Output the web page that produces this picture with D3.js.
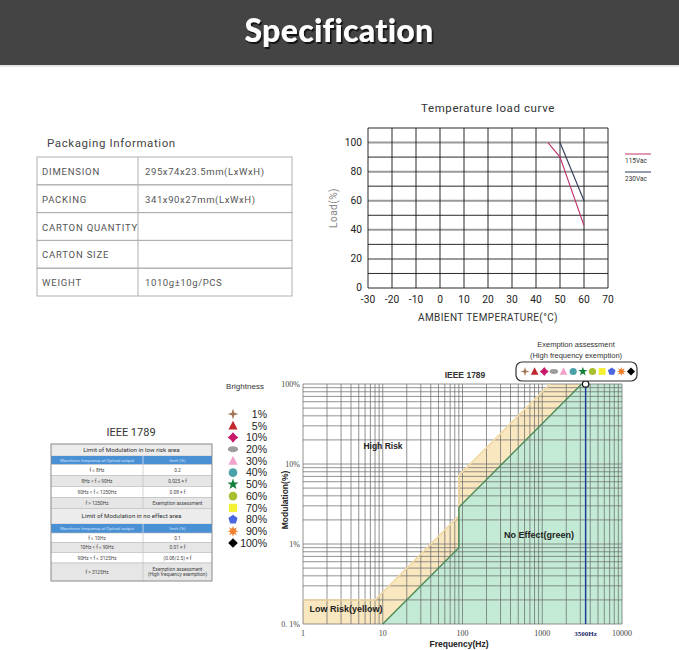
<!DOCTYPE html>
<html><head><meta charset="utf-8">
<script src="https://cdn.jsdelivr.net/npm/d3@7"></script>
<style>body{margin:0;background:#fff;} svg{display:block;}</style>
</head><body><svg id="c" width="679" height="650"></svg>
<script>
// ---------- DATA ----------
const pageTitle = "Specification";
const packagingTitle = "Packaging Information";
const packagingLabels = ["DIMENSION", "PACKING", "CARTON QUANTITY", "CARTON SIZE", "WEIGHT"];
const packagingValues = ["295x74x23.5mm(LxWxH)", "341x90x27mm(LxWxH)", "", "", "1010g±10g/PCS"];

const tempTitle = "Temperature load curve";
const tempXTicks = [-30, -20, -10, 0, 10, 20, 30, 40, 50, 60, 70];
const tempYTicks = [0, 20, 40, 60, 80, 100];
const tempSeriesNames = ["115Vac", "230Vac"];
const curve115 = [[45, 100], [50, 90], [60, 43]];
const curve230 = [[50, 100], [60, 60]];

const ieeeTitle = "IEEE 1789";
const lowRiskHeader = "Limit of Modulation in low risk area";
const noEffectHeader = "Limit of Modulation in no effect area";
const colHeaders = ["Waveform frequency of Optical output", "limit (%)"];
const lowRiskFreq = ["f ≤ 8Hz", "8Hz < f ≤ 90Hz", "90Hz < f ≤ 1250Hz", "f > 1250Hz"];
const lowRiskLim = ["0.2", "0.025 × f", "0.08 × f", "Exemption assessment"];
const noEffectFreq = ["f ≤ 10Hz", "10Hz < f ≤ 90Hz", "90Hz < f ≤ 3125Hz", "f > 3125Hz"];
const noEffectLim = ["0.1", "0.01 × f", "(0.08/2.5) ×   f", "Exemption assessment|(High frequency exemption)"];

const brightnessLabels = ["1%", "5%", "10%", "20%", "30%", "40%", "50%", "60%", "70%", "80%", "90%", "100%"];
const markerShapes = ["star4", "triangle", "flower", "ellipse", "triangle", "circle", "star5", "circle", "square", "pentagon", "star8", "diamond"];
const markerColors = ["#a27858", "#c0282c", "#c8186a", "#9c9c9c", "#f2a2c8", "#4aa2a8", "#17803e", "#a8c030", "#f6f032", "#4a66e0", "#f08030", "#000000"];

const lowRiskLimit = [[1, 0.2], [8, 0.2], [90, 2.25], [90, 7.2], [1250, 100]];
const noEffectLimit = [[1, 0.1], [10, 0.1], [90, 0.9], [90, 2.88], [3125, 100]];
const freqTicks = [1, 10, 100, 1000, 10000];
const modTicks = [0.1, 1, 10, 100];
const modTickLabels = ["0. 1%", "1%", "10%", "100%"];
const exemptFreq = 3500;
const exemptLabel = "3500Hz";

// ---------- DRAW ----------
const svg = d3.select("#c");
const defs = svg.append("defs");
const flt = defs.append("filter").attr("id", "sh").attr("x", "-10%").attr("y", "-20%").attr("width", "120%").attr("height", "150%");
flt.append("feDropShadow").attr("dx", 1.5).attr("dy", 2).attr("stdDeviation", 0.6).attr("flood-color", "#111").attr("flood-opacity", 0.9);

// header
svg.append("rect").attr("x", 0).attr("y", 0).attr("width", 679).attr("height", 65).attr("fill", "#444444");
svg.append("rect").attr("x", 0).attr("y", 65).attr("width", 679).attr("height", 2).attr("fill", "#e6e6e6");
svg.append("text").attr("x", 339).attr("y", 42).attr("text-anchor", "middle")
  .attr("font-family", "Lato, 'DejaVu Sans', sans-serif").attr("font-weight", 900).attr("font-size", 32)
  .attr("letter-spacing", 0.3).attr("fill", "#ffffff").attr("filter", "url(#sh)").text(pageTitle);

// packaging table
const pk = svg.append("g").attr("font-family", "Roboto, sans-serif");
pk.append("text").attr("x", 47).attr("y", 147).attr("font-size", 11.5).attr("letter-spacing", 0.6)
  .attr("fill", "#444").text(packagingTitle);
const pkX0 = 37, pkX1 = 138, pkX2 = 292, pkY0 = 157, pkRH = 27.8;
packagingLabels.forEach((lab, i) => {
  const y = pkY0 + i * pkRH;
  pk.append("rect").attr("x", pkX0).attr("y", y).attr("width", pkX2 - pkX0).attr("height", pkRH)
    .attr("fill", "none").attr("stroke", "#b0b0b0").attr("stroke-width", 1);
  pk.append("line").attr("x1", pkX1).attr("x2", pkX1).attr("y1", y).attr("y2", y + pkRH).attr("stroke", "#b0b0b0");
  pk.append("text").attr("x", 42).attr("y", y + 18).attr("font-size", 9.5).attr("letter-spacing", 0.8)
    .attr("fill", "#555").text(lab);
  pk.append("text").attr("x", 145).attr("y", y + 18).attr("font-size", 9.5).attr("letter-spacing", 0.6)
    .attr("fill", "#555").text(packagingValues[i]);
});

// temperature chart
const tx = d3.scaleLinear().domain([-30, 70]).range([368, 608]);
const ty = d3.scaleLinear().domain([0, 110]).range([288, 128]);
const tg = svg.append("g").attr("font-family", "Roboto, sans-serif");
tg.append("text").attr("x", 488).attr("y", 112).attr("text-anchor", "middle").attr("font-size", 11.5)
  .attr("letter-spacing", 0.6).attr("fill", "#333").text(tempTitle);
d3.range(0, 111, 10).forEach(v => {
  const major = v % 20 === 0 && v > 0 && v < 110;
  tg.append("line").attr("x1", tx(-30)).attr("x2", tx(70)).attr("y1", ty(v)).attr("y2", ty(v))
    .attr("stroke", major ? "#9a9a9a" : "#111").attr("stroke-width", major ? 2 : 0.9);
});
tempXTicks.forEach(v => {
  tg.append("line").attr("x1", tx(v)).attr("x2", tx(v)).attr("y1", ty(0)).attr("y2", ty(110))
    .attr("stroke", "#111").attr("stroke-width", 0.9);
  tg.append("text").attr("x", tx(v)).attr("y", 303).attr("text-anchor", "middle").attr("font-size", 10.2)
    .attr("fill", "#222").text(v);
});
tempYTicks.forEach(v => {
  tg.append("text").attr("x", 362).attr("y", ty(v) + 3).attr("text-anchor", "end").attr("font-size", 10.2)
    .attr("fill", "#222").text(v);
});
tg.append("text").attr("transform", "translate(337,208) rotate(-90)").attr("text-anchor", "middle")
  .attr("font-size", 10).attr("letter-spacing", 0.5).attr("fill", "#888").text("Load(%)");
tg.append("text").attr("x", 488).attr("y", 321).attr("text-anchor", "middle").attr("font-size", 10)
  .attr("letter-spacing", 0.4).attr("fill", "#333").text("AMBIENT TEMPERATURE(°C)");
const tline = d3.line().x(d => tx(d[0])).y(d => ty(d[1]));
tg.append("path").attr("d", tline(curve115)).attr("fill", "none").attr("stroke", "#c0306e").attr("stroke-width", 1.1);
tg.append("path").attr("d", tline(curve230)).attr("fill", "none").attr("stroke", "#2e3a58").attr("stroke-width", 1.1);
[["#c0306e", 154], ["#2e3a58", 172]].forEach((c, i) => {
  tg.append("line").attr("x1", 625).attr("x2", 651).attr("y1", c[1]).attr("y2", c[1]).attr("stroke", c[0]).attr("stroke-width", 1);
  tg.append("text").attr("x", 625).attr("y", c[1] + 9).attr("font-size", 6.5).attr("fill", "#333").text(tempSeriesNames[i]);
});

// IEEE table
const it = svg.append("g").attr("font-family", "Roboto, sans-serif");
it.append("text").attr("x", 131).attr("y", 436).attr("text-anchor", "middle").attr("font-size", 11)
  .attr("fill", "#333").text(ieeeTitle);
const tL = 51, tM = 143, tR = 212;
function titleRow(y, h, txt) {
  it.append("rect").attr("x", tL).attr("y", y).attr("width", tR - tL).attr("height", h).attr("fill", "#ececec").attr("stroke", "#bbb").attr("stroke-width", 0.6);
  it.append("text").attr("x", (tL + tR) / 2).attr("y", y + h / 2 + 2.2).attr("text-anchor", "middle").attr("font-size", 6.2).attr("fill", "#333").text(txt);
}
function headRow(y, h) {
  it.append("rect").attr("x", tL).attr("y", y).attr("width", tR - tL).attr("height", h).attr("fill", "#4a90d4");
  it.append("line").attr("x1", tM).attr("x2", tM).attr("y1", y).attr("y2", y + h).attr("stroke", "#fff").attr("stroke-width", 0.6);
  it.append("text").attr("x", (tL + tM) / 2).attr("y", y + h / 2 + 1.6).attr("text-anchor", "middle").attr("font-size", 4.4).attr("fill", "#cfe3ff").text(colHeaders[0]);
  it.append("text").attr("x", (tM + tR) / 2).attr("y", y + h / 2 + 1.6).attr("text-anchor", "middle").attr("font-size", 4.4).attr("fill", "#cfe3ff").text(colHeaders[1]);
}
function dataRow(y, h, a, b, shade) {
  it.append("rect").attr("x", tL).attr("y", y).attr("width", tR - tL).attr("height", h).attr("fill", shade ? "#e6e6e6" : "#fff").attr("stroke", "#bbb").attr("stroke-width", 0.6);
  it.append("line").attr("x1", tM).attr("x2", tM).attr("y1", y).attr("y2", y + h).attr("stroke", "#bbb").attr("stroke-width", 0.6);
  it.append("text").attr("x", (tL + tM) / 2).attr("y", y + h / 2 + 1.8).attr("text-anchor", "middle").attr("font-size", 4.8).attr("fill", "#444").text(a);
  const parts = b.split("|");
  parts.forEach((p, k) => {
    it.append("text").attr("x", (tM + tR) / 2).attr("y", y + h / 2 + 1.8 + (k - (parts.length - 1) / 2) * 5.2)
      .attr("text-anchor", "middle").attr("font-size", 4.8).attr("fill", "#444").text(p);
  });
}
titleRow(444, 12, lowRiskHeader);
headRow(456, 8.5);
const lrY = [464.5, 475.5, 486.5, 497.5];
lowRiskFreq.forEach((f, i) => dataRow(lrY[i], 11, f, lowRiskLim[i], i % 2 === 1));
titleRow(508.5, 15.5, noEffectHeader);
headRow(524, 9);
const neY = [533, 542.5, 552.5, 563], neH = [9.5, 10, 10.5, 18];
noEffectFreq.forEach((f, i) => dataRow(neY[i], neH[i], f, noEffectLim[i], i % 2 === 1));
it.append("rect").attr("x", tL).attr("y", 444).attr("width", tR - tL).attr("height", 137).attr("fill", "none").attr("stroke", "#888").attr("stroke-width", 0.8);

// marker generator
function starPath(n, ro, ri, rot) {
  const pts = [];
  for (let k = 0; k < 2 * n; k++) {
    const r = k % 2 === 0 ? ro : ri;
    const a = rot + k * Math.PI / n;
    pts.push([r * Math.sin(a), -r * Math.cos(a)]);
  }
  return "M" + pts.map(p => p[0].toFixed(2) + "," + p[1].toFixed(2)).join("L") + "Z";
}
function polyPath(n, r) {
  const pts = d3.range(n).map(k => { const a = k * 2 * Math.PI / n; return [r * Math.sin(a), -r * Math.cos(a)]; });
  return "M" + pts.map(p => p[0].toFixed(2) + "," + p[1].toFixed(2)).join("L") + "Z";
}
function drawMarker(g, shape, color, cx, cy, r) {
  let el;
  if (shape === "circle") el = g.append("circle").attr("r", r * 0.9);
  else if (shape === "ellipse") el = g.append("ellipse").attr("rx", r * 1.05).attr("ry", r * 0.62);
  else if (shape === "square") el = g.append("rect").attr("x", -r * 0.85).attr("y", -r * 0.85).attr("width", r * 1.7).attr("height", r * 1.7);
  else {
    let d;
    if (shape === "star4") d = starPath(4, r * 1.15, r * 0.38, 0);
    else if (shape === "triangle") d = "M0," + (-r * 1.05) + "L" + (r * 0.95) + "," + (r * 0.8) + "L" + (-r * 0.95) + "," + (r * 0.8) + "Z";
    else if (shape === "flower") d = starPath(4, r * 1.1, r * 0.7, 0);
    else if (shape === "star5") d = starPath(5, r * 1.2, r * 0.5, 0);
    else if (shape === "pentagon") d = polyPath(5, r * 1.0);
    else if (shape === "star8") d = starPath(8, r * 1.15, r * 0.55, 0);
    else d = "M0," + (-r) + "L" + r + ",0L0," + r + "L" + (-r) + ",0Z";
    el = g.append("path").attr("d", d);
  }
  el.attr("transform", `translate(${cx},${cy})`).attr("fill", color);
}

// brightness legend
const bl = svg.append("g").attr("font-family", "'Liberation Sans', Arial, sans-serif");
bl.append("text").attr("x", 245).attr("y", 389).attr("text-anchor", "middle").attr("font-size", 8).attr("fill", "#333").text("Brightness");
const by = d3.scalePoint().domain(brightnessLabels).range([414, 543]);
brightnessLabels.forEach((lab, i) => {
  drawMarker(bl, markerShapes[i], markerColors[i], 233, by(lab), 4.8);
  bl.append("text").attr("x", 267).attr("y", by(lab) + 3.8).attr("text-anchor", "end").attr("font-size", 10.5)
    .attr("fill", "#222").text(lab);
});

// IEEE chart
const fx = d3.scaleLog().domain([1, 10000]).range([303, 622]);
const my = d3.scaleLog().domain([0.1, 100]).range([624, 384]);
const ch = svg.append("g");
const area = d3.line().x(d => fx(d[0])).y(d => my(d[1]));
ch.append("path").attr("d", area(lowRiskLimit.concat([[10000, 100], [10000, 0.1], [1, 0.1]]))).attr("fill", "#f9e7bf");
ch.append("path").attr("d", area(noEffectLimit.concat([[10000, 100], [10000, 0.1]]))).attr("fill", "#c2ead5");
// grid
const gridF = [], gridM = [];
[1, 10, 100, 1000].forEach(d => d3.range(1, 10).forEach(k => gridF.push(d * k)));
gridF.push(10000);
[0.1, 1, 10].forEach(d => d3.range(1, 10).forEach(k => gridM.push(d * k)));
gridM.push(100);
gridF.forEach(v => ch.append("line").attr("x1", fx(v)).attr("x2", fx(v)).attr("y1", my(0.1)).attr("y2", my(100))
  .attr("stroke", "#6e6e6e").attr("stroke-width", 0.75));
gridM.forEach(v => ch.append("line").attr("x1", fx(1)).attr("x2", fx(10000)).attr("y1", my(v)).attr("y2", my(v))
  .attr("stroke", "#6e6e6e").attr("stroke-width", 0.75));
// limit lines
ch.append("path").attr("d", area(lowRiskLimit)).attr("fill", "none").attr("stroke", "#f1d9a4").attr("stroke-width", 1.5);
ch.append("path").attr("d", area(noEffectLimit.filter(d => d[0] >= 10))).attr("fill", "none").attr("stroke", "#4b8a5a").attr("stroke-width", 1.4);
ch.append("line").attr("x1", fx(exemptFreq)).attr("x2", fx(exemptFreq)).attr("y1", my(100)).attr("y2", my(0.1))
  .attr("stroke", "#1c3c98").attr("stroke-width", 1.5);
ch.append("circle").attr("cx", fx(exemptFreq)).attr("cy", my(100)).attr("r", 3.2).attr("fill", "#fff").attr("stroke", "#111").attr("stroke-width", 1.2);
// labels
const serif = "'Liberation Serif', 'DejaVu Serif', serif";
modTicks.forEach((v, i) => ch.append("text").attr("x", 300).attr("y", my(v) + 3).attr("text-anchor", "end")
  .attr("font-family", serif).attr("font-size", 8).attr("fill", "#444").text(modTickLabels[i]));
freqTicks.forEach(v => ch.append("text").attr("x", fx(v)).attr("y", 636).attr("text-anchor", "middle")
  .attr("font-family", serif).attr("font-size", 8).attr("fill", "#444").text(v));
ch.append("text").attr("x", fx(exemptFreq)).attr("y", 636).attr("text-anchor", "middle").attr("font-family", serif)
  .attr("font-size", 7).attr("font-weight", "bold").attr("fill", "#1c2c68").text(exemptLabel);
const sans = "'Liberation Sans', Arial, sans-serif";
ch.append("text").attr("x", 459).attr("y", 647).attr("text-anchor", "middle").attr("font-family", sans)
  .attr("font-weight", "bold").attr("font-size", 8.5).attr("fill", "#222").text("Frequency(Hz)");
ch.append("text").attr("transform", "translate(288,500) rotate(-90)").attr("text-anchor", "middle").attr("font-family", sans)
  .attr("font-weight", "bold").attr("font-size", 8.5).attr("fill", "#222").text("Modulation(%)");
ch.append("text").attr("x", 465).attr("y", 378).attr("text-anchor", "middle").attr("font-family", sans)
  .attr("font-weight", "bold").attr("font-size", 8.5).attr("fill", "#333").text(ieeeTitle);
ch.append("text").attr("x", 383).attr("y", 449).attr("text-anchor", "middle").attr("font-family", sans)
  .attr("font-weight", "bold").attr("font-size", 8.5).attr("fill", "#222").text("High Risk");
ch.append("text").attr("x", 539).attr("y", 538).attr("text-anchor", "middle").attr("font-family", sans)
  .attr("font-size", 9).attr("font-weight", 600).attr("fill", "#222").text("No Effect(green)");
ch.append("text").attr("x", 346).attr("y", 612).attr("text-anchor", "middle").attr("font-family", sans)
  .attr("font-size", 9).attr("font-weight", 600).attr("fill", "#222").text("Low Risk(yellow)");
// exemption legend
ch.append("text").attr("x", 576).attr("y", 347).attr("text-anchor", "middle").attr("font-family", sans)
  .attr("font-size", 7.5).attr("fill", "#333").text("Exemption assessment");
ch.append("text").attr("x", 576).attr("y", 358).attr("text-anchor", "middle").attr("font-family", sans)
  .attr("font-size", 7.5).attr("fill", "#333").text("(High frequency exemption)");
ch.append("rect").attr("x", 516).attr("y", 362).attr("width", 121).attr("height", 19).attr("rx", 6)
  .attr("fill", "#fff").attr("stroke", "#333").attr("stroke-width", 1.2);
const ex = d3.scalePoint().domain(brightnessLabels).range([525, 631]);
brightnessLabels.forEach((lab, i) => drawMarker(ch, markerShapes[i], markerColors[i], ex(lab), 371.5, 4));
</script></body></html>
